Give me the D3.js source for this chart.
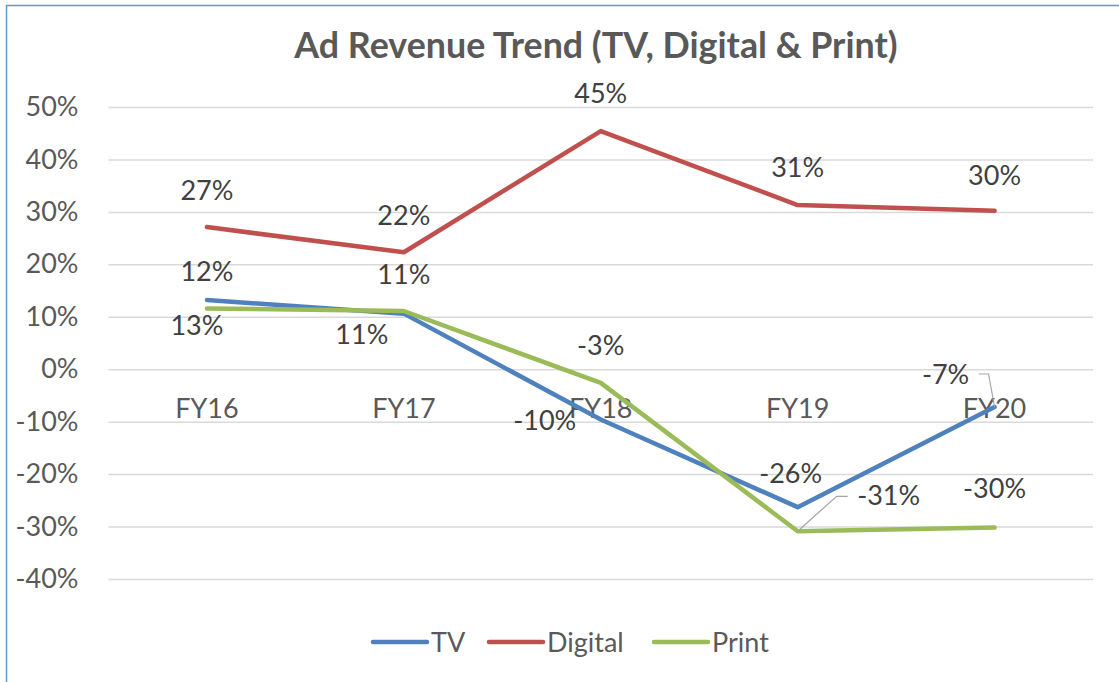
<!DOCTYPE html>
<html lang="en">
<head>
  <meta charset="UTF-8">
  <title>Ad Revenue Trend</title>
  <script src="https://d3js.org/d3.v7.min.js"></script>
  <style>
    body { margin: 0; background: #fff; }
    text { font-family: Lato, "Open Sans", sans-serif; }
  </style>
</head>
<body>
<div class="canvas"></div>
<script>
  // data (percent)
  const categories = ["FY16", "FY17", "FY18", "FY19", "FY20"];
  const tvValues = [13.2, 10.6, -9.6, -26.3, -7.2];
  const digitalValues = [27.1, 22.3, 45.4, 31.3, 30.2];
  const printValues = [11.6, 11.1, -2.6, -30.9, -30.2];
  const yTicks = [50, 40, 30, 20, 10, 0, -10, -20, -30, -40];

  const series = [
    { name: "TV", values: tvValues, color: "#4f81bd" },
    { name: "Digital", values: digitalValues, color: "#c0504d" },
    { name: "Print", values: printValues, color: "#9bbb59" }
  ];

  // label offsets from the point, as Excel had them dragged about
  const labelShift = {
    TV: [[-10, 35], [-42, 30], [-56, 10], [-7, -24], [-49, -23]],
    Digital: [[0, -27], [0, -27], [0, -28], [0, -28], [0, -26]],
    Print: [[0, -27], [0, -27], [0, -28], [91, -26], [0, -30]]
  };
  // leader lines: [series, index, elbow dx/dy from label]
  const leaders = [
    { s: "Print", i: 3, elbow: [[-52, -9], [-41, -9]] },
    { s: "TV", i: 4, elbow: [[43, -10], [33, -10]] }
  ];

  const W = 1119, H = 682;
  const svg = d3.select(".canvas").append("svg")
    .attr("width", W).attr("height", H);

  svg.append("rect")
    .attr("x", 6.5).attr("y", 5.5)
    .attr("width", W).attr("height", H)
    .attr("fill", "#fff")
    .attr("stroke", "#5b9bd5").attr("stroke-width", 1.5);

  const x = d3.scaleBand().domain(categories).range([108.5, 1093]);
  const y = d3.scaleLinear().domain([-40, 50]).range([579, 107]);
  const cx = d => x(d) + x.bandwidth() / 2;

  // title
  svg.append("text")
    .attr("x", 596).attr("y", 58)
    .attr("text-anchor", "middle")
    .attr("font-size", 35.8).attr("font-weight", "bold")
    .attr("fill", "#595959")
    .text("Ad Revenue Trend (TV, Digital & Print)");

  // gridlines
  const yAxis = d3.axisLeft(y).tickValues(yTicks)
    .tickSize(-(1093 - 108.5)).tickPadding(30)
    .tickFormat(d => d + "%");
  const ga = svg.append("g").attr("transform", "translate(108.5,0)").call(yAxis);
  ga.select(".domain").remove();
  ga.selectAll(".tick line").attr("stroke", "#d9d9d9").attr("stroke-width", 1.5);
  ga.selectAll(".tick text")
    .attr("font-size", 27).attr("fill", "#595959")
    .attr("font-family", "Lato, sans-serif");

  // category labels
  svg.append("g").selectAll("text")
    .data(categories).join("text")
    .attr("x", d => cx(d)).attr("y", 418)
    .attr("text-anchor", "middle")
    .attr("font-size", 27).attr("fill", "#595959")
    .text(d => d);

  const line = d3.line()
    .x((d, i) => cx(categories[i]))
    .y(d => y(d));

  svg.append("g").selectAll("path")
    .data(series).join("path")
    .attr("d", d => line(d.values))
    .attr("fill", "none")
    .attr("stroke", d => d.color)
    .attr("stroke-width", 4.5)
    .attr("stroke-linejoin", "round")
    .attr("stroke-linecap", "round");

  // leader lines
  leaders.forEach(l => {
    const s = series.find(d => d.name === l.s);
    const px = cx(categories[l.i]), py = y(s.values[l.i]);
    const sh = labelShift[l.s][l.i];
    const lx = px + sh[0], ly = py + sh[1];
    const pts = [[px, py]].concat(l.elbow.map(e => [lx + e[0], ly + e[1]]));
    svg.append("path")
      .attr("d", d3.line()(pts))
      .attr("fill", "none")
      .attr("stroke", "#a6a6a6").attr("stroke-width", 1.2);
  });

  // data labels
  series.forEach(s => {
    svg.append("g").selectAll("text")
      .data(s.values).join("text")
      .attr("x", (d, i) => cx(categories[i]) + labelShift[s.name][i][0])
      .attr("y", (d, i) => y(d) + labelShift[s.name][i][1])
      .attr("text-anchor", "middle")
      .attr("font-size", 27).attr("fill", "#404040")
      .text(d => Math.round(d) + "%");
  });

  // legend
  const legX = [373, 489, 654];
  const lg = svg.append("g").selectAll("g")
    .data(series).join("g")
    .attr("transform", (d, i) => `translate(${legX[i]},642)`);
  lg.append("line")
    .attr("x1", 0).attr("x2", 54)
    .attr("stroke", d => d.color).attr("stroke-width", 4.5)
    .attr("stroke-linecap", "round");
  lg.append("text")
    .attr("x", 58).attr("y", 10)
    .attr("font-size", 27).attr("fill", "#595959")
    .text(d => d.name);
</script>
</body>
</html>
